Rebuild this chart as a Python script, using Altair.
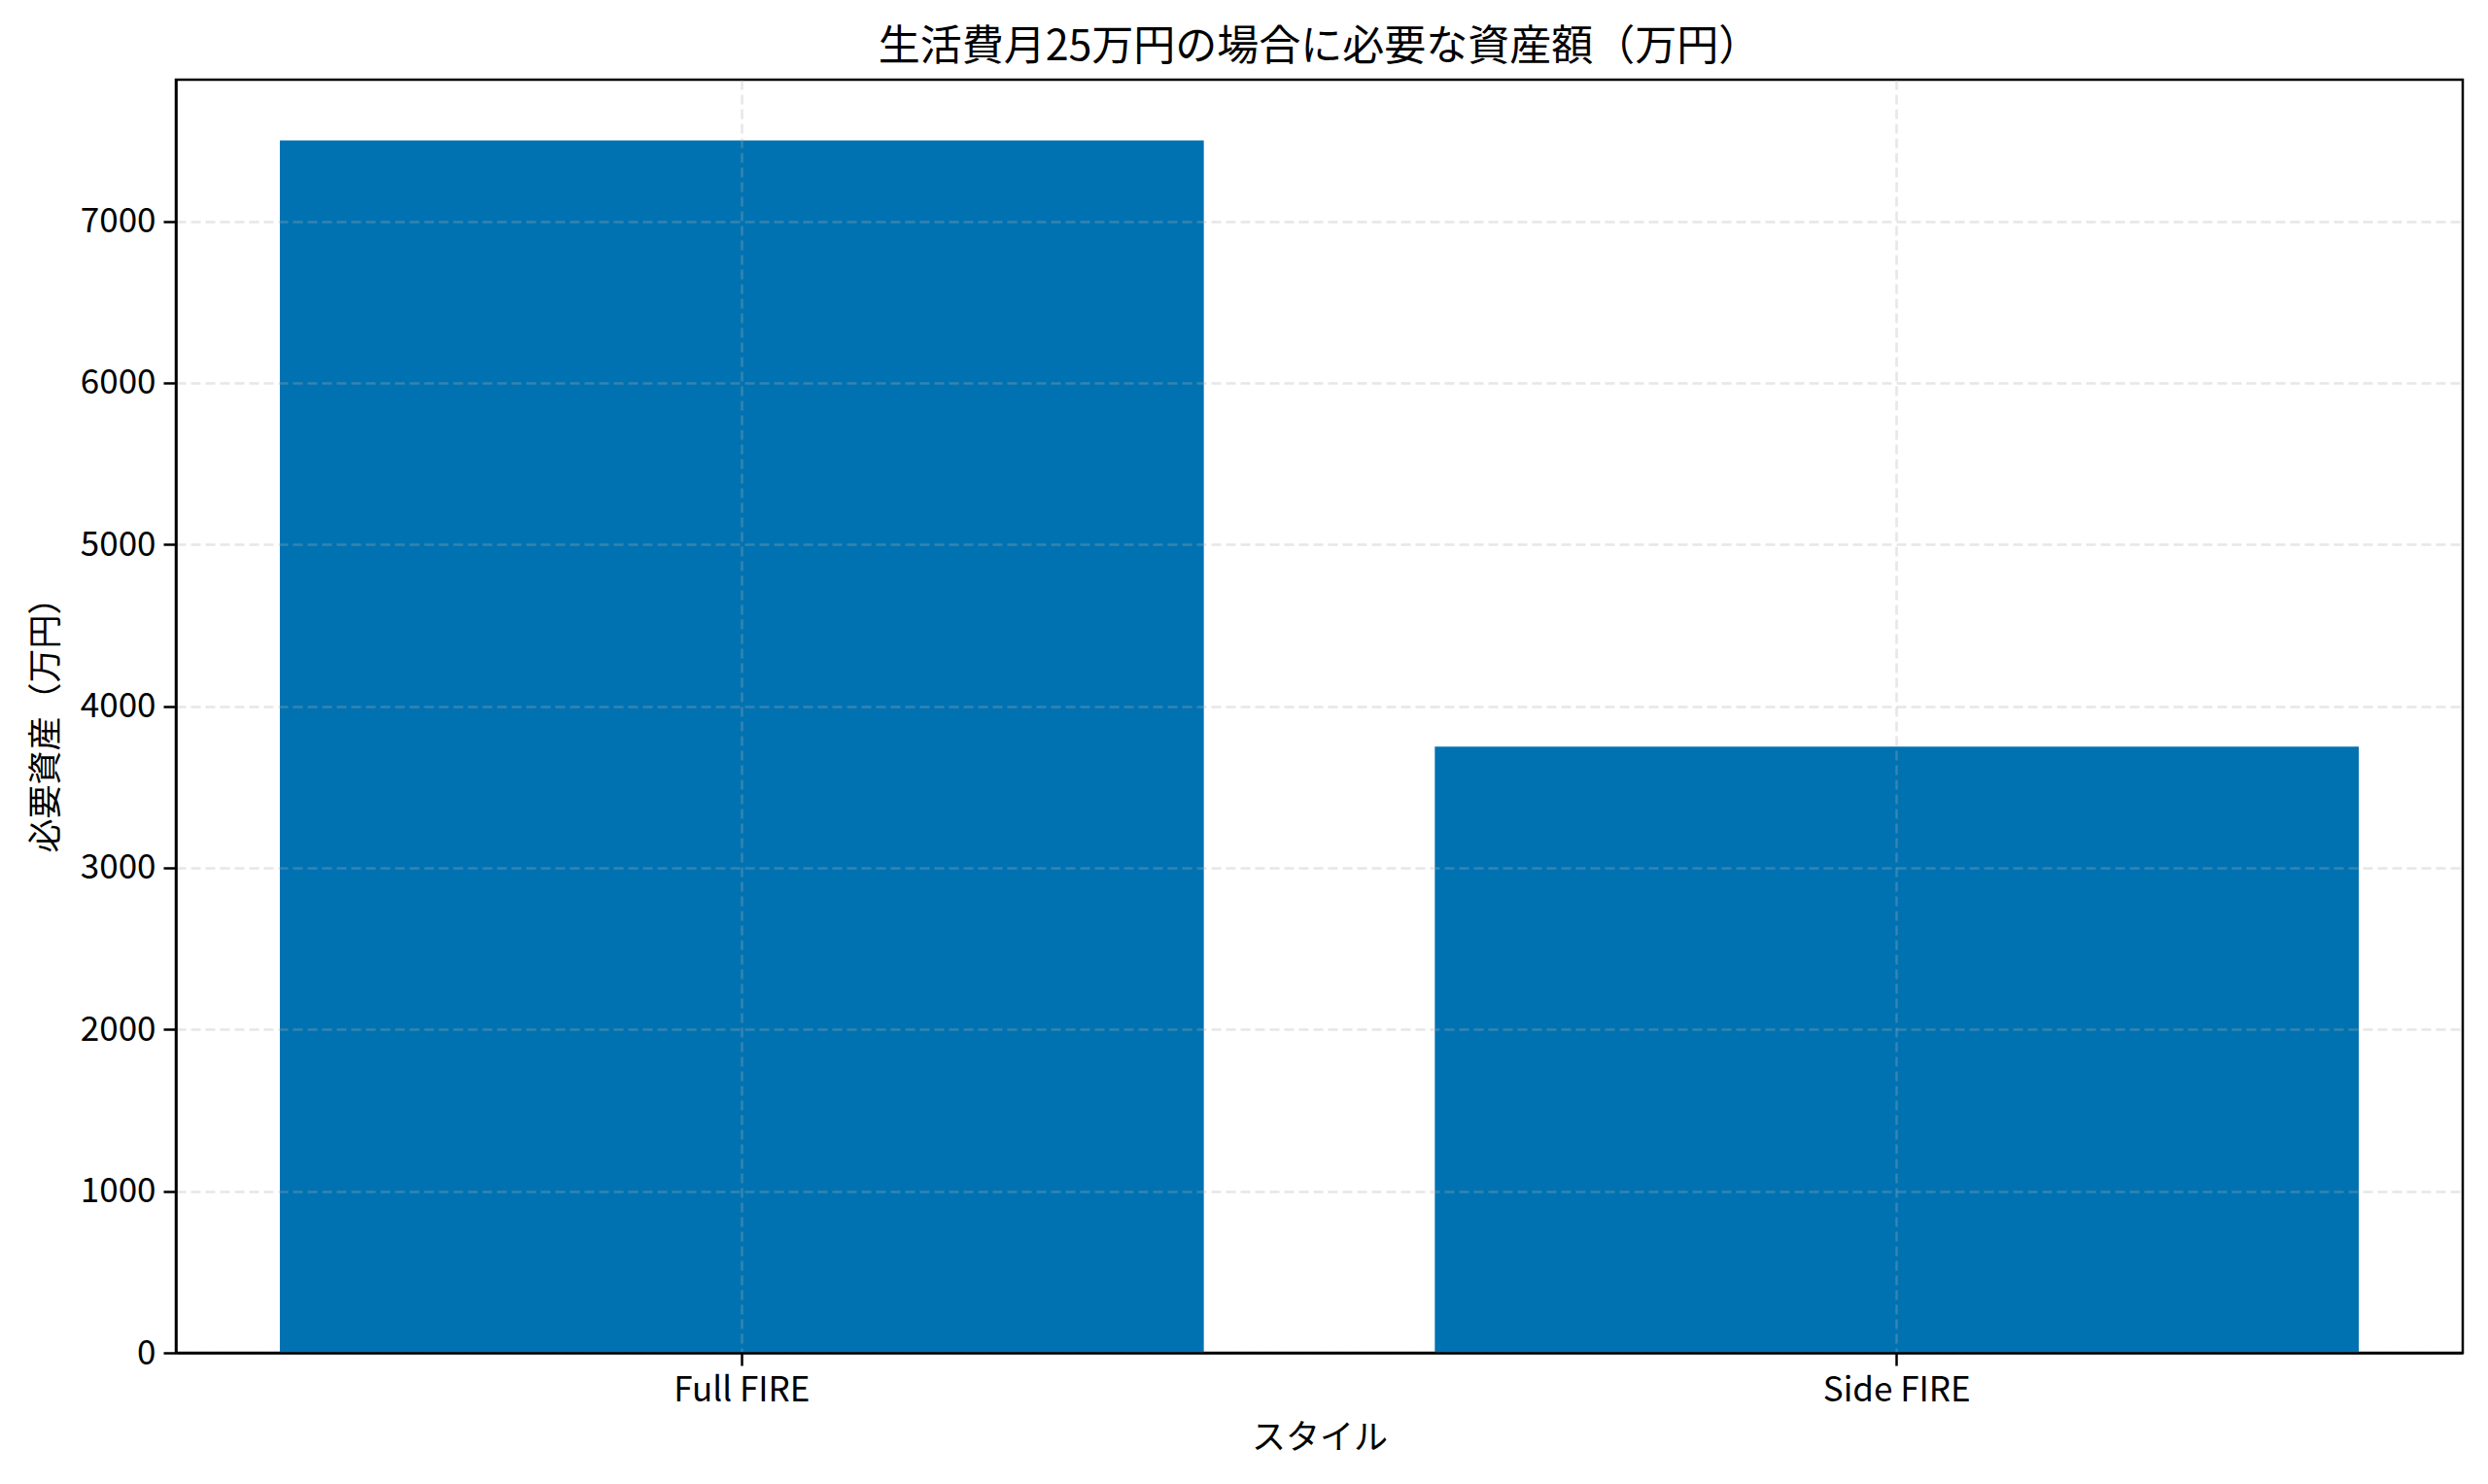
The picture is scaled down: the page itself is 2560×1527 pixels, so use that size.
import altair as alt
import pandas as pd

# chart values
styles = ["Full FIRE", "Side FIRE"]
required_assets = [7500, 3750]  # 万円
y_ticks = [0, 1000, 2000, 3000, 4000, 5000, 6000, 7000]

FONT = "Noto Sans CJK JP"
BAR_COLOR = "#0072B2"

df = pd.DataFrame({"style": styles, "assets": required_assets})

grid_args = dict(
    grid=True,
    gridColor="#b0b0b0",
    gridOpacity=0.3,
    gridDash=[10, 5],
    gridWidth=2.5,
)

chart = alt.Chart(df).mark_bar(color=BAR_COLOR).encode(
    alt.X(
        "style:N",
        sort=styles,
        title="スタイル",
        scale=alt.Scale(paddingInner=0.2, paddingOuter=0.09),
        axis=alt.Axis(
            labelAngle=0,
            bandPosition=0.5,
            labelPadding=8,
            titlePadding=14,
            zindex=1,
            **grid_args,
        ),
    ),
    alt.Y(
        "assets:Q",
        title="必要資産（万円）",
        scale=alt.Scale(domain=[0, 7875], nice=False),
        axis=alt.Axis(
            values=y_ticks,
            format="d",
            labelPadding=8,
            titlePadding=17,
            zindex=1,
            **grid_args,
        ),
    ),
).properties(
    width=2353,
    height=1310,
    title=alt.TitleParams("生活費月25万円の場合に必要な資産額（万円）", offset=11),
    autosize=alt.AutoSizeParams(type="none"),
    padding={"left": 173, "top": 74, "right": 18, "bottom": 127},
).configure_view(
    stroke="black",
    strokeWidth=2.5,
).configure_axis(
    labelFont=FONT,
    titleFont=FONT,
    labelFontSize=35,
    titleFontSize=35,
    labelColor="black",
    titleColor="black",
    titleFontWeight="normal",
    domainColor="black",
    domainWidth=2.5,
    tickColor="black",
    tickWidth=2.5,
    tickSize=13,
).configure_title(
    font=FONT,
    fontSize=43,
    fontWeight="normal",
    color="black",
    anchor="middle",
)

chart.save("out.html", embed_options={"renderer": "svg", "actions": False})
